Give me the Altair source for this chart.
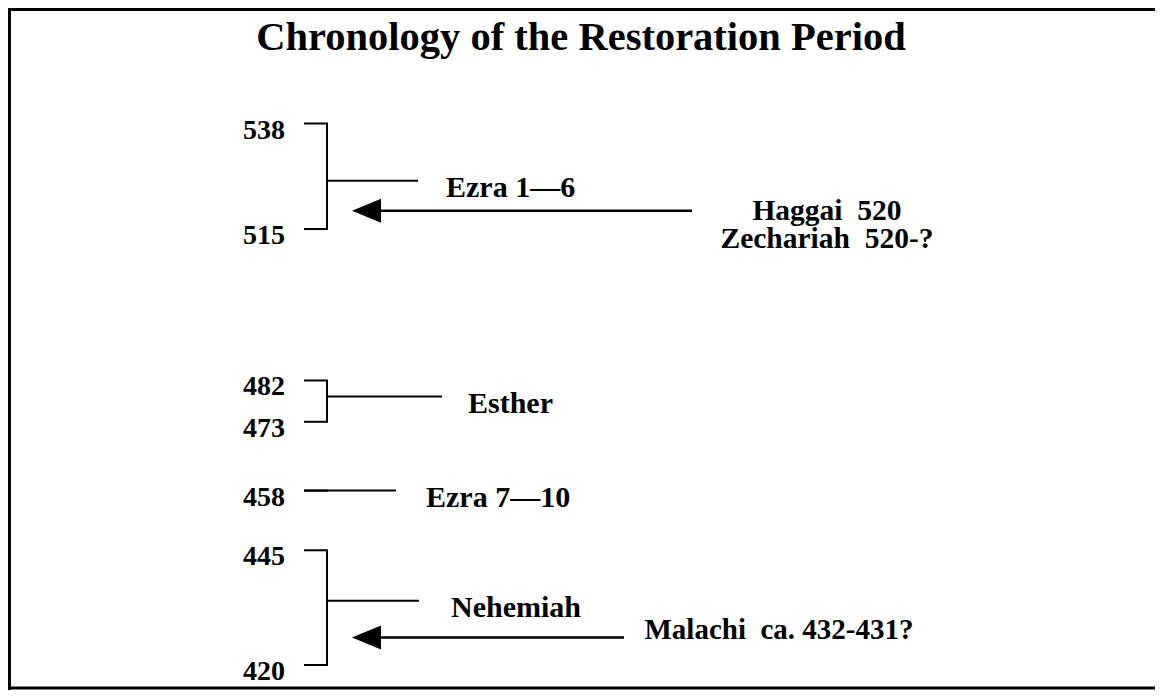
import altair as alt
import pandas as pd

# ---------------- data ----------------
TITLE = ["Chronology of the Restoration Period"]

years = [538, 515, 482, 473, 458, 445, 420]

books = ["Ezra 1—6", "Esther", "Ezra 7—10", "Nehemiah"]
book_start = [538, 482, 458, 445]
book_end = [515, 473, 458, 420]
book_link = [525.5, 478.5, 458, 434]   # year level where the connector line is drawn

NB = "\u00a0"
prophets = ["Haggai" + NB + NB + "520\nZechariah" + NB + NB + "520-?",
            "Malachi" + NB + NB + "ca. 432-431?"]
prophet_year = [519, 426]               # year level of the arrow

# ---------------- layout (plot-area pixels) ----------------
W, H = 1147, 682
FRAME_RIGHT = 1160
BRACKET_X = 319
TICK_X0 = 296
LABEL_X = 256
link_x0 = [319, 319, 296, 319]
link_x1 = [410, 434, 388, 411]
book_text_x = [438, 460, 418, 443]
arrow_tail_x = [684, 616]
arrow_tip_x = [344, 344]
prophet_text_x = [819, 771]
prophet_dy = [0, -7]
HEAD_W = 29

FONT = "Liberation Serif"

xs = alt.Scale(domain=[0, W], range=[0, W], nice=False, zero=False)
ys = alt.Scale(domain=[538, 420], range=[115.5, 657], nice=False, zero=False)


def X(f):
    return alt.X(f, type="quantitative", scale=xs, axis=None)


def Y(f):
    return alt.Y(f, type="quantitative", scale=ys, axis=None)


one = pd.DataFrame({"k": [0]})
df_title = pd.DataFrame({"t": TITLE})
df_years = pd.DataFrame({"year": years, "label": [str(y) for y in years]})
df_books = pd.DataFrame({
    "name": books, "start": book_start, "end": book_end, "link": book_link,
    "x0": link_x0, "x1": link_x1, "tx": book_text_x,
})
df_br = df_books[df_books["start"] != df_books["end"]]
df_pro = pd.DataFrame({
    "text": prophets, "year": prophet_year,
    "tail": arrow_tail_x, "tip": arrow_tip_x, "tx": prophet_text_x,
    "idx": list(range(len(prophets))),
})
df_pro["hx"] = df_pro["tip"] + HEAD_W / 2
df_pro["lend"] = df_pro["tip"] + HEAD_W / 2

layers = []

# frame
layers.append(alt.Chart(one).mark_rule(color="black", strokeWidth=3).encode(
    x=alt.value(1.5), y=alt.value(0), y2=alt.value(H)))
layers.append(alt.Chart(one).mark_rule(color="black", strokeWidth=3).encode(
    x=alt.value(0), x2=alt.value(FRAME_RIGHT), y=alt.value(1.5)))
layers.append(alt.Chart(one).mark_rule(color="black", strokeWidth=3).encode(
    x=alt.value(0), x2=alt.value(FRAME_RIGHT), y=alt.value(H - 2)))

# title
layers.append(alt.Chart(df_title).mark_text(
    font=FONT, fontSize=40.5, fontWeight="bold", align="center", baseline="middle",
    color="black").encode(x=alt.value(573), y=alt.value(30), text="t:N"))

# year labels
layers.append(alt.Chart(df_years).mark_text(
    font=FONT, fontSize=28, fontWeight="bold", align="center", baseline="middle",
    dy=7, color="black").encode(x=alt.value(LABEL_X), y=Y("year"), text="label:N"))

# bracket ticks
layers.append(alt.Chart(df_years).mark_rule(color="black", strokeWidth=2).encode(
    x=alt.value(TICK_X0), x2=alt.value(BRACKET_X + 1), y=Y("year")))

# bracket verticals
layers.append(alt.Chart(df_br).mark_rule(color="black", strokeWidth=2).encode(
    x=alt.value(BRACKET_X), y=Y("start"), y2="end:Q"))

# connector lines
layers.append(alt.Chart(df_books).mark_rule(color="black", strokeWidth=2).encode(
    x=X("x0"), x2="x1:Q", y=Y("link")))

# book names
layers.append(alt.Chart(df_books).mark_text(
    font=FONT, fontSize=30, fontWeight="bold", align="left", baseline="middle",
    dy=7, color="black").encode(x=X("tx"), y=Y("link"), text="name:N"))

# arrows
layers.append(alt.Chart(df_pro).mark_rule(color="black", strokeWidth=2.5).encode(
    x=X("tail"), x2="lend:Q", y=Y("year")))
layers.append(alt.Chart(df_pro).mark_point(
    shape="M -1 0 L 1 -0.83 L 1 0.83 Z", filled=True, size=HEAD_W * HEAD_W,
    opacity=1, color="black", strokeWidth=0).encode(x=X("hx"), y=Y("year")))

# prophet texts
for i in range(len(prophets)):
    layers.append(alt.Chart(df_pro).transform_filter(
        alt.datum.idx == i).mark_text(
        font=FONT, fontSize=29.5 if i == 0 else 29, fontWeight="bold", align="center",
        baseline="middle", lineBreak="\n", lineHeight=28, dy=prophet_dy[i],
        color="black").encode(x=X("tx"), y=Y("year"), text="text:N"))

chart = alt.layer(*layers).properties(
    width=W, height=H, padding=0, autosize="none", background="white"
).configure_view(stroke="transparent", strokeWidth=0)

chart.save("out.html", embed_options={"renderer": "svg", "actions": False})
